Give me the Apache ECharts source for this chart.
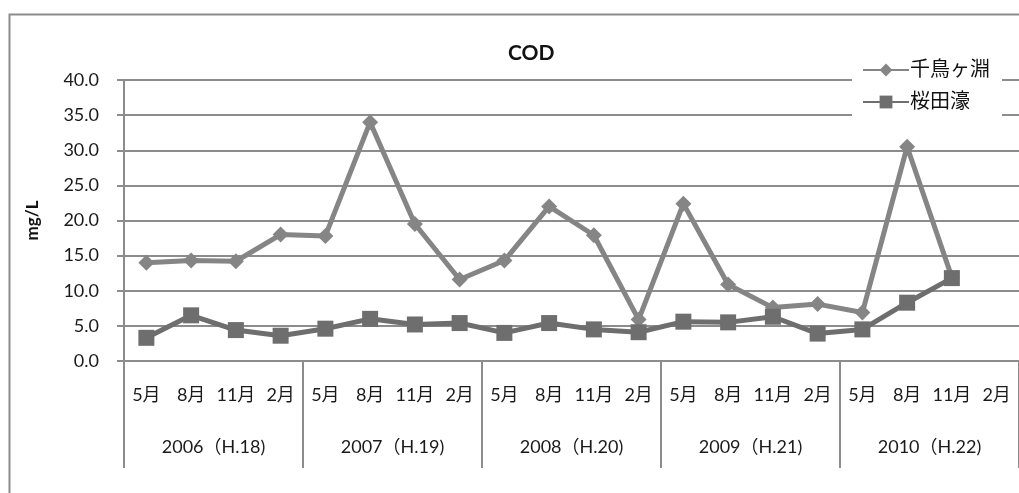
<!DOCTYPE html>
<html>
<head>
<meta charset="utf-8">
<script src="https://cdn.jsdelivr.net/npm/echarts@6/dist/echarts.min.js"></script>
<style>
  html, body { margin: 0; padding: 0; background: #fff; }
  #chart { width: 1019px; height: 493px; }
</style>
</head>
<body>
<div id="chart"></div>
<script>
// Survey months within each fiscal year, and the fiscal-year groups
const months = ['5月', '8月', '11月', '2月'];
const years = ['2006（H.18)', '2007（H.19)', '2008（H.20)', '2009（H.21)', '2010（H.22)'];
const yTicks = { min: 0, max: 40, interval: 5 };

// COD (mg/L) at each survey, in order
const chidorigafuchi = [14.0, 14.3, 14.2, 18.0, 17.8, 34.0, 19.5, 11.6, 14.3, 22.0, 17.9, 5.9, 22.4, 10.9, 7.6, 8.1, 6.9, 30.5, 11.9, null];
const sakuradabori   = [3.3, 6.5, 4.4, 3.6, 4.6, 6.0, 5.2, 5.4, 4.0, 5.4, 4.5, 4.1, 5.6, 5.5, 6.3, 3.9, 4.5, 8.3, 11.8, null];

const categories = [];
years.forEach(() => months.forEach(m => categories.push(m)));

const FONT = 'Lato, "Noto Sans CJK JP", sans-serif';
const GRID_COLOR = '#8c8c8c';

const chart = echarts.init(document.getElementById('chart'));
chart.setOption({
  animation: false,
  backgroundColor: '#fff',
  title: {
    text: 'COD',
    left: 503,
    top: 38,
    textStyle: { fontFamily: FONT, fontSize: 21, fontWeight: 'bold', color: '#111' }
  },
  legend: {
    orient: 'vertical',
    left: 852,
    top: 55,
    backgroundColor: '#fff',
    padding: [5, 12, 5, 10],
    itemGap: 12,
    itemWidth: 46,
    itemHeight: 16,
    textStyle: { fontFamily: FONT, fontSize: 20, color: '#111', padding: [0, 0, 0, -4] },
    data: ['千鳥ヶ淵', '桜田濠']
  },
  grid: { left: 124, top: 80, width: 897, height: 281, containLabel: false },
  xAxis: [
    {
      type: 'category',
      data: categories,
      boundaryGap: true,
      axisLine: { lineStyle: { color: GRID_COLOR, width: 2 } },
      axisTick: { show: false },
      axisLabel: { interval: 0, margin: 25, fontFamily: FONT, fontSize: 18, color: '#1a1a1a' }
    },
    {
      type: 'category',
      data: years,
      position: 'bottom',
      boundaryGap: true,
      axisLine: { show: false },
      axisTick: { show: true, length: 107, lineStyle: { color: GRID_COLOR, width: 2 } },
      axisLabel: { interval: 0, margin: 77, fontFamily: FONT, fontSize: 18, color: '#1a1a1a' }
    }
  ],
  yAxis: {
    type: 'value',
    min: yTicks.min,
    max: yTicks.max,
    interval: yTicks.interval,
    name: 'mg/L',
    nameLocation: 'middle',
    nameGap: 83,
    nameTextStyle: { fontFamily: FONT, fontSize: 17, fontWeight: 'bold', color: '#111' },
    axisLine: { show: true, lineStyle: { color: GRID_COLOR, width: 2 } },
    axisTick: { show: true, inside: false, length: 7, lineStyle: { color: GRID_COLOR, width: 2 } },
    axisLabel: {
      margin: 25,
      fontFamily: FONT, fontSize: 18, color: '#1a1a1a',
      formatter: v => v.toFixed(1)
    },
    splitLine: { lineStyle: { color: GRID_COLOR, width: 2 } }
  },
  series: [
    {
      name: '千鳥ヶ淵',
      type: 'line',
      data: chidorigafuchi,
      symbol: 'diamond',
      symbolSize: 16,
      z: 3,
      lineStyle: { color: '#858585', width: 5 },
      itemStyle: { color: '#858585' }
    },
    {
      name: '桜田濠',
      type: 'line',
      data: sakuradabori,
      symbol: 'rect',
      symbolSize: 16,
      z: 4,
      lineStyle: { color: '#6e6e6e', width: 5 },
      itemStyle: { color: '#6e6e6e' }
    }
  ],
  graphic: [
    {
      type: 'rect',
      left: 7, top: 12,
      shape: { width: 1030, height: 520 },
      style: { fill: 'none', stroke: '#8c8c8c', lineWidth: 2 },
      silent: true
    }
  ]
});
</script>
</body>
</html>
